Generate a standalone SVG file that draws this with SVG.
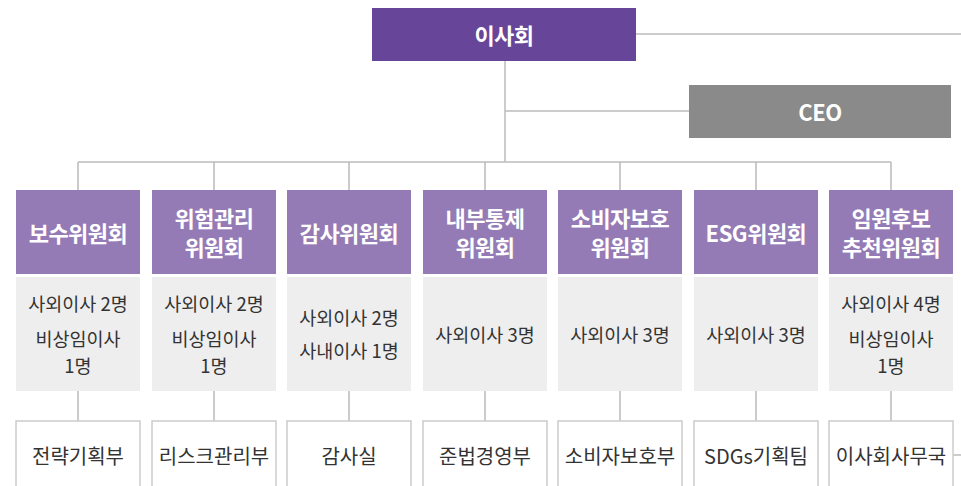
<svg xmlns="http://www.w3.org/2000/svg" width="961" height="486" viewBox="0 0 961 486">
<style>
.ln{stroke:#bbbbbb;stroke-width:1.5;fill:none}
.top{fill:#674598}
.ceo{fill:#8a8a8a}
.hd{fill:#957bb5}
.gb{fill:#eeeeee}
.wb{fill:#ffffff;stroke:#cccccc;stroke-width:1.5}
text{font-family:"Noto Sans CJK KR","Noto Sans",sans-serif;text-anchor:middle;dominant-baseline:central}
.tw{fill:#ffffff;font-weight:bold;font-size:22px;letter-spacing:-0.5px}
.tg{fill:#333333;font-size:18.5px}
.tb{fill:#333333;font-size:20px}
</style>
<rect width="961" height="486" fill="#ffffff"/>
<g id="connectors">
<path class="ln" d="M636 34H961"/>
<path class="ln" d="M505 61V162"/>
<path class="ln" d="M505 111H689"/>
<path class="ln" d="M78 162H891"/>
<path class="ln" d="M78 162V190M214 162V190M349 162V190M485 162V190M620 162V190M756 162V190M891 162V190"/>
<path class="ln" d="M78 391V421M214 391V421M349 391V421M485 391V421M620 391V421M756 391V421M891 391V421"/>
<path class="ln" d="M953 455H961"/>
</g>
<g id="board"><rect class="top" x="372" y="8" width="264" height="53"/><text class="tw" x="504" y="34">이사회</text></g>
<g id="ceo"><rect class="ceo" x="689" y="85" width="262" height="53"/><text class="tw" x="820" y="111">CEO</text></g>

<g id="c1">
<rect class="hd" x="16" y="190" width="124" height="84"/><text class="tw" x="78" y="232">보수위원회</text>
<rect class="gb" x="16" y="277" width="124" height="114"/>
<text class="tg" x="78" y="303">사외이사 2명</text><text class="tg" x="78" y="338">비상임이사</text><text class="tg" x="78" y="365">1명</text>
</g>
<g id="c2">
<rect class="hd" x="152" y="190" width="124" height="84"/><text class="tw" x="214" y="217">위험관리</text><text class="tw" x="214" y="246">위원회</text>
<rect class="gb" x="152" y="277" width="124" height="114"/>
<text class="tg" x="214" y="303">사외이사 2명</text><text class="tg" x="214" y="338">비상임이사</text><text class="tg" x="214" y="365">1명</text>
</g>
<g id="c3">
<rect class="hd" x="287" y="190" width="124" height="84"/><text class="tw" x="349" y="232">감사위원회</text>
<rect class="gb" x="287" y="277" width="124" height="114"/>
<text class="tg" x="349" y="317">사외이사 2명</text><text class="tg" x="349" y="350">사내이사 1명</text>
</g>
<g id="c4">
<rect class="hd" x="423" y="190" width="124" height="84"/><text class="tw" x="485" y="217">내부통제</text><text class="tw" x="485" y="246">위원회</text>
<rect class="gb" x="423" y="277" width="124" height="114"/>
<text class="tg" x="485" y="334">사외이사 3명</text>
</g>
<g id="c5">
<rect class="hd" x="558" y="190" width="124" height="84"/><text class="tw" x="620" y="217">소비자보호</text><text class="tw" x="620" y="246">위원회</text>
<rect class="gb" x="558" y="277" width="124" height="114"/>
<text class="tg" x="620" y="334">사외이사 3명</text>
</g>
<g id="c6">
<rect class="hd" x="694" y="190" width="124" height="84"/><text class="tw" x="756" y="232">ESG위원회</text>
<rect class="gb" x="694" y="277" width="124" height="114"/>
<text class="tg" x="756" y="334">사외이사 3명</text>
</g>
<g id="c7">
<rect class="hd" x="829" y="190" width="124" height="84"/><text class="tw" x="891" y="217">임원후보</text><text class="tw" x="891" y="246">추천위원회</text>
<rect class="gb" x="829" y="277" width="124" height="114"/>
<text class="tg" x="891" y="303">사외이사 4명</text><text class="tg" x="891" y="338">비상임이사</text><text class="tg" x="891" y="365">1명</text>
</g>

<g id="d1"><rect class="wb" x="16" y="421" width="124" height="80"/><text class="tb" x="78" y="455">전략기획부</text></g>
<g id="d2"><rect class="wb" x="152" y="421" width="124" height="80"/><text class="tb" x="214" y="455">리스크관리부</text></g>
<g id="d3"><rect class="wb" x="287" y="421" width="124" height="80"/><text class="tb" x="349" y="455">감사실</text></g>
<g id="d4"><rect class="wb" x="423" y="421" width="124" height="80"/><text class="tb" x="485" y="455">준법경영부</text></g>
<g id="d5"><rect class="wb" x="558" y="421" width="124" height="80"/><text class="tb" x="620" y="455">소비자보호부</text></g>
<g id="d6"><rect class="wb" x="694" y="421" width="124" height="80"/><text class="tb" x="756" y="455">SDGs기획팀</text></g>
<g id="d7"><rect class="wb" x="829" y="421" width="124" height="80"/><text class="tb" x="891" y="455">이사회사무국</text></g>
</svg>
